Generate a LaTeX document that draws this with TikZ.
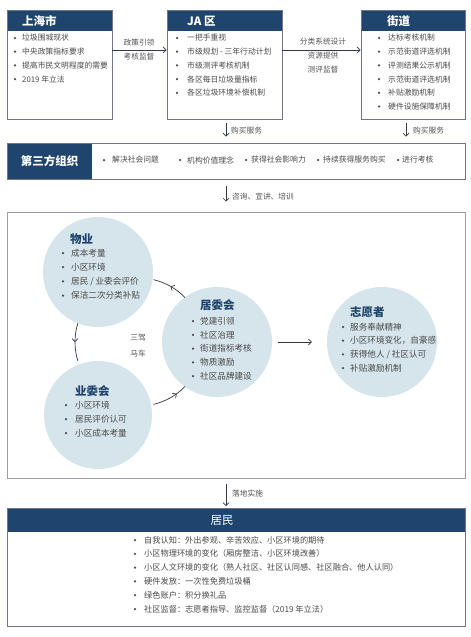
\documentclass[tikz,border=0pt]{standalone}
\usepackage{fontspec}
\setmainfont{Noto Sans CJK SC}
\usetikzlibrary{arrows.meta,decorations.markings,calc}
\definecolor{navy}{HTML}{1F456E}
\definecolor{boxc}{HTML}{70748A}
\definecolor{framec}{HTML}{9A9CA8}
\definecolor{circc}{HTML}{D6E4EB}
\definecolor{txtc}{HTML}{4A4A4A}
\definecolor{lblc}{HTML}{555555}
\definecolor{linec}{HTML}{333A45}
\newcommand\bullist[7]{%
  \foreach \itx [count=\i] in {#7} {%
    \fill[txtc] (#2,{#4+(\i-1)*#5}) circle (1.25);
    \node[#6] (#1\i) at (#3,{#4+(\i-1)*#5}) {\itx};
  }%
}
\begin{document}
\begin{tikzpicture}[x=1pt,y=-1pt,
  arr/.style={draw=linec, line width=0.7pt, -{Straight Barb[length=3pt,width=6pt]}},
  itm/.style={anchor=west, inner sep=0pt, text=txtc, font=\fontsize{7.8}{9}\selectfont},
  citm/.style={itm, font=\fontsize{8.6}{10}\selectfont},
  ritm/.style={itm, font=\fontsize{8.2}{10}\selectfont},
  lbl/.style={inner sep=0pt, text=lblc, font=\fontsize{7.7}{9}\selectfont},
  hdr/.style={inner sep=0pt, text=white, font=\fontsize{11.5}{13}\selectfont\bfseries},
  ctitle/.style={anchor=west, inner sep=0pt, text=navy, font=\fontsize{11.5}{13}\selectfont\bfseries},
  boxs/.style={draw=boxc, line width=0.8pt, rectangle, inner sep=0pt},
  circ/.style={circle, fill=circc, inner sep=0pt, minimum size=110pt},
  cyc/.style={draw=linec, line width=0.7pt, postaction={decorate},
    decoration={markings, mark=at position #1 with {\arrow{Straight Barb[length=3pt,width=6pt]}}}},
  cyc/.default=0.5
]
\useasboundingbox (0,0) rectangle (471,637);
\fill[white] (0,0) rectangle (471,637);

% ---------- top boxes ----------
\fill[navy] (7,10) rectangle (112,31);
\node[boxs, minimum width=105pt, minimum height=109pt] (sh) at (59.5,64.5) {};
\node[hdr, anchor=west] (shT) at (22,21) {上海市};
\bullist{shI}{15}{22}{38}{13.7}{itm}{垃圾围城现状,中央政策指标要求,提高市民文明程度的需要,2019 年立法}

\fill[navy] (167,10) rectangle (282,31);
\node[boxs, minimum width=115pt, minimum height=109pt] (ja) at (224.5,64.5) {};
\node[hdr, anchor=west] (jaT) at (187,21) {JA 区};
\bullist{jaI}{177}{187}{38}{13.7}{itm}{一把手重视,市级规划 - 三年行动计划,市级测评考核机制,各区每日垃圾量指标,各区垃圾环境补偿机制}

\fill[navy] (361,10) rectangle (465,31);
\node[boxs, minimum width=104pt, minimum height=109pt] (jd) at (413,64.5) {};
\node[hdr, anchor=west] (jdT) at (387,21) {街道};
\bullist{jdI}{379}{388}{38}{13.7}{itm}{达标考核机制,示范街道评选机制,评测结果公示机制,示范街道评选机制,补贴激励机制,硬件设施保障机制}

% arrows between top boxes
\draw[arr] ([yshift=14.5pt]sh.east) -- ([yshift=14.5pt]ja.west);
\node[lbl] (l1a) at (139,43) {政策引领};
\node[lbl] (l1b) at (139,57) {考核监督};
\draw[arr] ([yshift=14.5pt]ja.east) -- ([yshift=14.5pt]jd.west);
\node[lbl] (l2a) at (323,42) {分类系统设计};
\node[lbl] (l2b) at (323,56) {资源提供};
\node[lbl] (l2c) at (323,70) {测评监督};

% ---------- third party ----------
\fill[navy] (7,143) rectangle (92,179);
\node[boxs, minimum width=458pt, minimum height=36pt] (tp) at (236,161) {};
\node[hdr] (tpT) at (49.5,161) {第三方组织};
\fill[txtc] (104,160) circle (1.25);
\node[itm] (tp1) at (112,160) {解决社会问题};
\fill[txtc] (180,160) circle (1.25);
\node[itm] (tp2) at (187,160) {机构价值理念};
\fill[txtc] (246,160) circle (1.25);
\node[itm] (tp3) at (251,160) {获得社会影响力};
\fill[txtc] (318,160) circle (1.25);
\node[itm] (tp4) at (323,160) {持续获得服务购买};
\fill[txtc] (398,160) circle (1.25);
\node[itm] (tp5) at (402,160) {进行考核};

\draw[arr, shorten <=4pt, shorten >=6pt] ([xshift=1.5pt]ja.south) -- ([xshift=1.5pt]ja.south |- tp.north);
\node[lbl, anchor=west] (l3) at (231,131) {购买服务};
\draw[arr, shorten <=4pt, shorten >=6pt] ([xshift=-7pt]jd.south) -- ([xshift=-7pt]jd.south |- tp.north);
\node[lbl, anchor=west] (l4) at (413,131) {购买服务};

% ---------- middle frame ----------
\node[draw=framec, line width=1pt, minimum width=458pt, minimum height=266pt, inner sep=0pt] (frame) at (236,345) {};
\draw[arr, shorten <=7pt, shorten >=10pt] ([xshift=-10pt]tp.south) -- ([xshift=-10pt]tp.south |- frame.north);
\node[lbl, anchor=west] (l5) at (232,197) {咨询、宣讲、培训};

\node[circ] (wy) at (98,272) {};
\node[circ] (jwh) at (217,342) {};
\node[circ] (zyz) at (382,342) {};
\node[circ, minimum size=108pt] (ywh) at (98,415) {};

\node[ctitle] (wyT) at (70,239) {物业};
\bullist{wyI}{63}{71}{253}{14.2}{citm}{成本考量,小区环境,居民 / 业委会评价,保洁二次分类补贴}

\node[ctitle] (jwhT) at (200,305) {居委会};
\bullist{jwhI}{193}{200}{321}{13.8}{citm}{党建引领,社区治理,街道指标考核,物质激励,社区品牌建设}

\node[ctitle] (zyzT) at (350,312) {志愿者};
\bullist{zyzI}{343}{350}{327}{13.7}{citm}{服务奉献精神,小区环境变化，自豪感,获得他人 / 社区认可,补贴激励机制}

\node[ctitle] (ywhT) at (75,391) {业委会};
\bullist{ywhI}{66}{75}{405}{14}{citm}{小区环境,居民评价认可,小区成本考量}

\coordinate (hub) at (139,342);
\draw[cyc] ($(hub)+(-44:64)$) arc[start angle=-44, end angle=-77, radius=64];
\draw[cyc] ($(hub)+(197:64)$) arc[start angle=197, end angle=163, radius=64];
\draw[cyc=0.7] ($(hub)+(77:64)$) arc[start angle=77, end angle=44, radius=64];
\node[lbl, align=center, font=\fontsize{7.7}{16}\selectfont] (sjmc) at (138,346) {三驾\\马车};

\draw[arr, shorten <=6pt, shorten >=15pt] (jwh) -- (zyz);

% ---------- residents ----------
\draw[arr, shorten <=5pt, shorten >=2pt] ([xshift=-10pt]frame.south) -- ([xshift=-10pt]frame.south |- 0,508);
\node[lbl, anchor=west] (l6) at (232,494) {落地实施};
\fill[navy] (7,508) rectangle (465,532);
\node[boxs, minimum width=458pt, minimum height=118pt] (jm) at (236,567) {};
\node[hdr, font=\fontsize{11.5}{13}\selectfont] (jmT) at (222,520) {居民};
\bullist{jmI}{135}{144}{540}{13.8}{ritm}{自我认知：外出参观、辛苦效应、小区环境的期待,小区物理环境的变化（厢房整洁、小区环境改善）,小区人文环境的变化（熟人社区、社区认同感、社区融合、他人认同）,硬件发放：一次性免费垃圾桶,绿色账户：积分换礼品,社区监督：志愿者指导、监控监督（2019 年立法）}
\end{tikzpicture}
\end{document}
